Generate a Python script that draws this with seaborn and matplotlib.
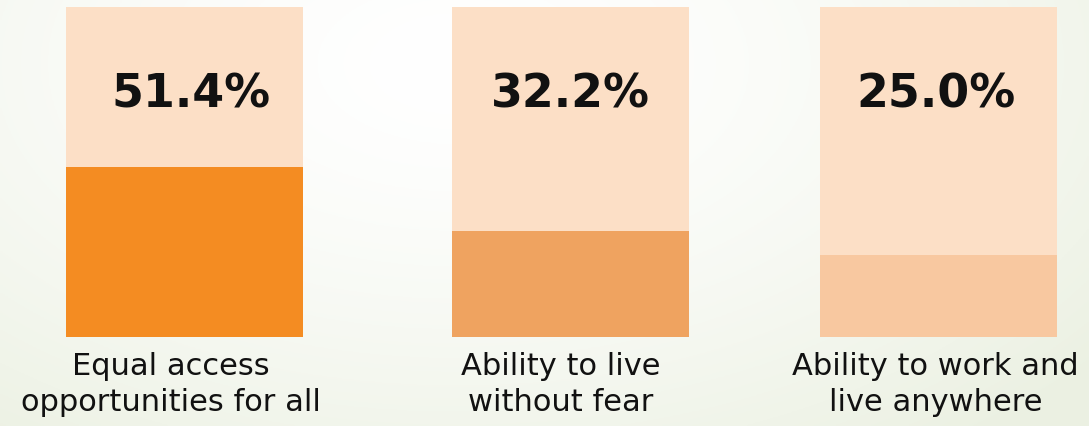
import numpy as np
import pandas as pd
import matplotlib
matplotlib.use("Agg")
import matplotlib.pyplot as plt
import matplotlib.transforms as mtransforms
import seaborn as sns

# ---- data ----
categories = ["Equal access\nopportunities for all",
              "Ability to live\nwithout fear",
              "Ability to work and\nlive anywhere"]
values = [51.4, 32.2, 25.0]
track_total = [100, 100, 100]
value_labels = ["51.4%", "32.2%", "25.0%"]

fill_colors = ["#F48C22", "#EFA360", "#F8C8A0"]
track_color = "#FCDFC6"

sns.set_theme(style="white")
plt.rcParams["font.family"] = ["DejaVu Sans"]

W, H, DPI = 1089, 427, 100
fig = plt.figure(figsize=(W / DPI, H / DPI), dpi=DPI)

# background gradient (white near top-centre, faint green towards edges)
bg = fig.add_axes([0, 0, 1, 1], zorder=-10)
yy, xx = np.mgrid[0:1:200j, 0:1:400j]
d = np.clip(np.sqrt(((xx - 0.42) / 0.75) ** 2 + ((yy - 0.15) / 1.1) ** 2), 0, 1)
d = d ** 1.5
c0 = np.array([1.0, 1.0, 1.0])
c1 = np.array([0.925, 0.945, 0.890])
img = c0[None, None, :] * (1 - d[..., None]) + c1[None, None, :] * d[..., None]
bg.imshow(img, aspect="auto", extent=[0, 1, 1, 0])
bg.set_axis_off()

# layout (pixels)
bar_lefts = [66, 452, 820]
bar_width_px = 237
bottom_px, top_px = 338, 8
label_dx = [-14, -10, -3]
pct_dx = [6, 0, -2]

df = pd.DataFrame({"category": categories, "value": values, "track": track_total,
                   "label": value_labels, "color": fill_colors})

for i, row in df.iterrows():
    ax = fig.add_axes([bar_lefts[i] / W, (H - bottom_px) / H,
                       bar_width_px / W, (bottom_px - top_px) / H])
    ax.patch.set_alpha(0)
    sub = df.iloc[[i]]
    sns.barplot(data=sub, x="category", y="track", color=track_color,
                width=0.8, saturation=1, ax=ax, linewidth=0)
    sns.barplot(data=sub, x="category", y="value", color=row["color"],
                width=0.8, saturation=1, ax=ax, linewidth=0)
    ax.set_xlim(-0.4, 0.4)
    ax.set_ylim(0, 100)
    t = ax.text(0, 73.5, row["label"], ha="center", va="center",
                fontsize=33, fontweight="bold", family=["DejaVu Sans"],
                color="#111111")
    t.set_transform(ax.transData +
                    mtransforms.ScaledTranslation(pct_dx[i] / DPI, 0,
                                                  fig.dpi_scale_trans))
    ax.set_xlabel("")
    ax.set_ylabel("")
    ax.set_yticks([])
    ax.set_xticks([0])
    ax.set_xticklabels([row["category"]], fontsize=22, color="#111111",
                       linespacing=1.3)
    ax.tick_params(axis="x", length=0, pad=10)
    for lbl in ax.get_xticklabels():
        lbl.set_transform(lbl.get_transform() +
                          mtransforms.ScaledTranslation(label_dx[i] / DPI, 0,
                                                        fig.dpi_scale_trans))
    sns.despine(ax=ax, left=True, bottom=True)

fig.savefig("out.png", dpi=DPI)
